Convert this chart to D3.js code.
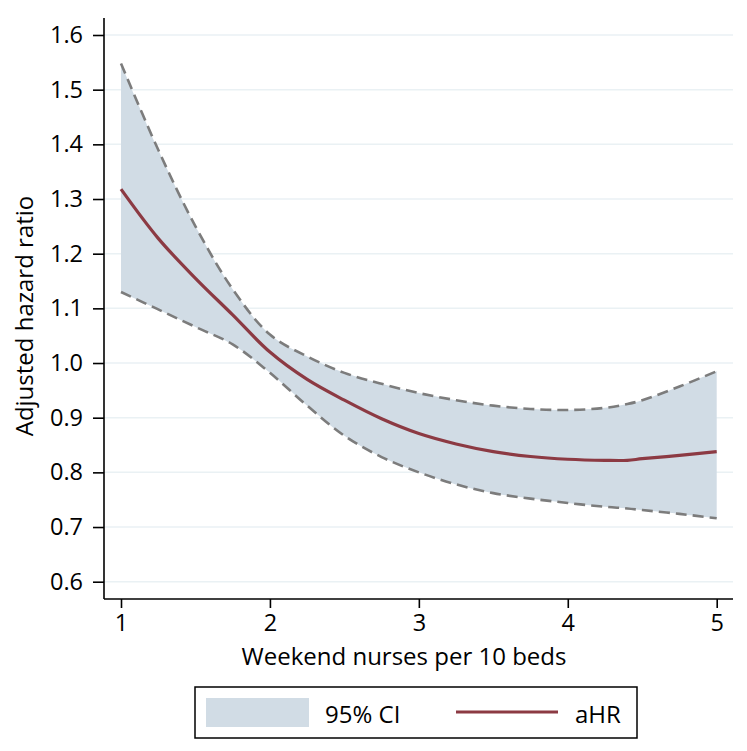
<!DOCTYPE html>
<html><head><meta charset="utf-8">
<script src="https://cdn.jsdelivr.net/npm/d3@7"></script>
<style>body{margin:0;background:#fff}text{font-family:"Open Sans",sans-serif;fill:#000}</style>
</head><body><svg id="c" width="747" height="751"></svg>
<script>
const xs =    [1.0, 1.25, 1.5, 1.75, 2.0, 2.25, 2.5, 2.75, 3.0, 3.25, 3.5, 3.75, 4.0, 4.25, 4.4, 4.5, 4.75, 5.0];
const upper = [1.548,1.39,1.25,1.135,1.052,1.012,0.982,0.962,0.945,0.932,0.922,0.916,0.914,0.918,0.925,0.932,0.957,0.985];
const aHR =   [1.318,1.228,1.155,1.088,1.02,0.97,0.932,0.898,0.871,0.852,0.838,0.829,0.824,0.822,0.822,0.825,0.831,0.838];
const lower = [1.13,1.098,1.066,1.034,0.982,0.922,0.867,0.828,0.800,0.778,0.762,0.752,0.744,0.737,0.734,0.731,0.724,0.716];
const xTicks = [1,2,3,4,5];
const yTicks = [0.6,0.7,0.8,0.9,1.0,1.1,1.2,1.3,1.4,1.5,1.6];
const xTitle = "Weekend nurses per 10 beds";
const yTitle = "Adjusted hazard ratio";
const legendLabels = ["95% CI","aHR"];

const svg = d3.select("#c");
const x = d3.scaleLinear().domain([1,5]).range([121,716.7]);
const y = d3.scaleLinear().domain([0.6,1.6]).range([581.7,35]);
const pL=104, pR=733, pT=18, pB=599;

// gridlines
svg.append("g").selectAll("line").data(yTicks).join("line")
  .attr("x1",pL).attr("x2",pR).attr("y1",d=>y(d)).attr("y2",d=>y(d))
  .attr("stroke","#eaf1f4").attr("stroke-width",1.5);

const pts = xs.map((v,i)=>({x:v,u:upper[i],m:aHR[i],l:lower[i]}));
const curve = d3.curveCatmullRom.alpha(0.5);
svg.append("path").datum(pts)
  .attr("d", d3.area().x(d=>x(d.x)).y0(d=>y(d.l)).y1(d=>y(d.u)).curve(curve))
  .attr("fill","#d1dce5");
const lineU = d3.line().x(d=>x(d.x)).y(d=>y(d.u)).curve(curve);
const lineL = d3.line().x(d=>x(d.x)).y(d=>y(d.l)).curve(curve);
const lineM = d3.line().x(d=>x(d.x)).y(d=>y(d.m)).curve(curve);
[lineU,lineL].forEach(g=>svg.append("path").datum(pts).attr("d",g)
  .attr("fill","none").attr("stroke","#7c7c7c").attr("stroke-width",2.6).attr("stroke-dasharray","11,6"));
svg.append("path").datum(pts).attr("d",lineM)
  .attr("fill","none").attr("stroke","#8c3a43").attr("stroke-width",3.2);

// axes
const ax = svg.append("g");
ax.append("line").attr("x1",pL).attr("x2",pL).attr("y1",pT).attr("y2",pB).attr("stroke","#000").attr("stroke-width",1.6);
ax.append("line").attr("x1",pL).attr("x2",pR).attr("y1",pB).attr("y2",pB).attr("stroke","#000").attr("stroke-width",1.6);
const yAxis = svg.append("g").attr("transform",`translate(${pL},0)`)
  .call(d3.axisLeft(y).tickValues(yTicks).tickFormat(d3.format(".1f")).tickSize(11).tickPadding(10));
const xAxis = svg.append("g").attr("transform",`translate(0,${pB})`)
  .call(d3.axisBottom(x).tickValues(xTicks).tickFormat(d3.format("d")).tickSize(9).tickPadding(6));
[yAxis,xAxis].forEach(g=>{
  g.select(".domain").remove();
  g.selectAll(".tick line").attr("stroke","#000").attr("stroke-width",1.6);
  g.selectAll(".tick text").attr("font-family","Open Sans").attr("font-size",23.5).attr("fill","#000");
});

svg.append("text").attr("x",404).attr("y",665).attr("text-anchor","middle").attr("font-size",24).text(xTitle);
svg.append("text").attr("transform","translate(33,316) rotate(-90)").attr("text-anchor","middle").attr("font-size",24).text(yTitle);

// legend
const lg = svg.append("g");
lg.append("rect").attr("x",195).attr("y",687).attr("width",442).attr("height",51)
  .attr("fill","#fff").attr("stroke","#000").attr("stroke-width",1.5);
lg.append("rect").attr("x",206).attr("y",698).attr("width",103).attr("height",29).attr("fill","#d1dce5");
lg.append("text").attr("x",325).attr("y",723).attr("font-size",24).text(legendLabels[0]);
lg.append("line").attr("x1",456).attr("x2",558).attr("y1",712).attr("y2",712).attr("stroke","#8c3a43").attr("stroke-width",3.2);
lg.append("text").attr("x",575).attr("y",723).attr("font-size",24).text(legendLabels[1]);
</script></body></html>
